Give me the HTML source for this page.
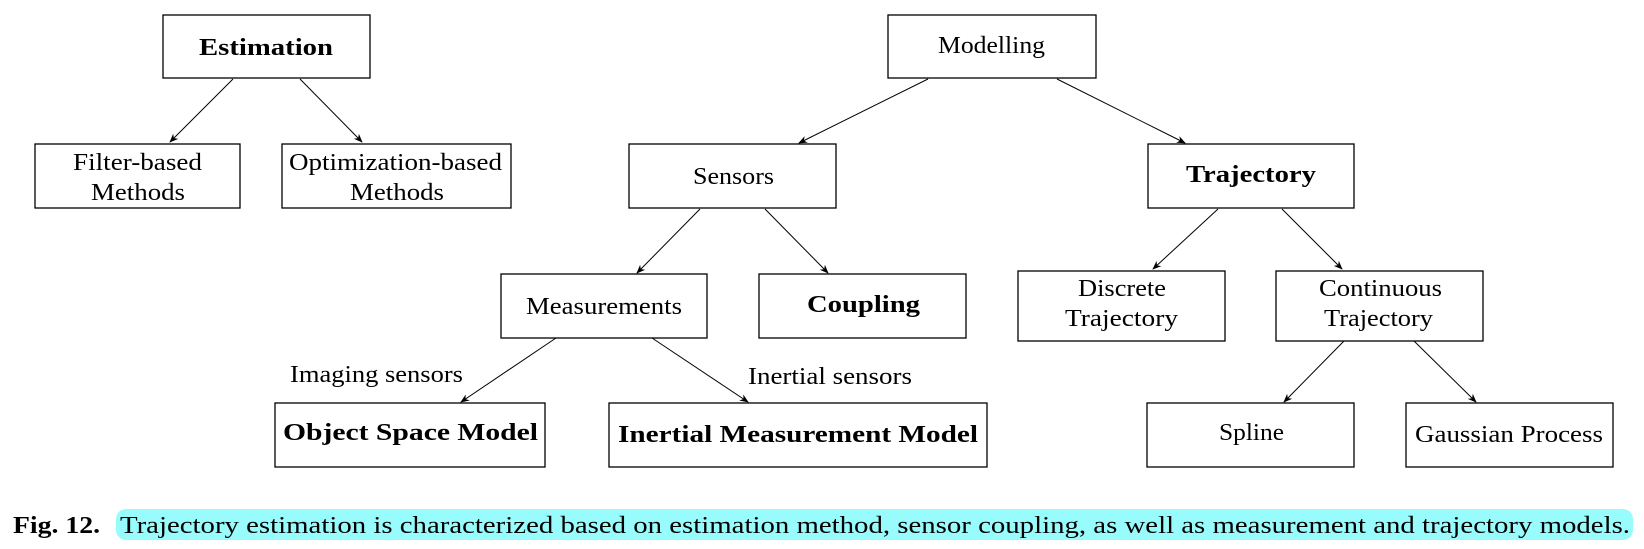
<!DOCTYPE html>
<html><head><meta charset="utf-8"><style>
html,body{margin:0;padding:0;background:#fff;}
svg{display:block;}
text{font-family:"Liberation Serif",serif;fill:#000;}
</style></head><body>
<svg width="1644" height="549" viewBox="0 0 1644 549" xmlns="http://www.w3.org/2000/svg">
<defs>
<marker id="a" viewBox="0 0 10 10" refX="9" refY="5" markerWidth="9" markerHeight="9" orient="auto" markerUnits="userSpaceOnUse">
<path d="M0,1 L10,5 L0,9 L3,5 Z" fill="#000"/>
</marker>
</defs>
<g fill="none" stroke="#000" stroke-width="1.3">
<rect x="163" y="15" width="207" height="63"/>
<rect x="35" y="144" width="205" height="64"/>
<rect x="282" y="144" width="229" height="64"/>
<rect x="888" y="15" width="208" height="63"/>
<rect x="629" y="144" width="207" height="64"/>
<rect x="1148" y="144" width="206" height="64"/>
<rect x="501" y="274" width="206" height="64"/>
<rect x="759" y="274" width="207" height="64"/>
<rect x="1018" y="271" width="207" height="70"/>
<rect x="1276" y="271" width="207" height="70"/>
<rect x="275" y="403" width="270" height="64"/>
<rect x="609" y="403" width="378" height="64"/>
<rect x="1147" y="403" width="207" height="64"/>
<rect x="1406" y="403" width="207" height="64"/>
</g>
<g stroke="#000" stroke-width="1" marker-end="url(#a)">
<line x1="233" y1="79" x2="170" y2="142"/>
<line x1="300" y1="79" x2="362" y2="142"/>
<line x1="928" y1="79" x2="799" y2="143"/>
<line x1="1057" y1="79" x2="1185" y2="143"/>
<line x1="700" y1="209" x2="637" y2="273"/>
<line x1="765" y1="209" x2="828" y2="273"/>
<line x1="556" y1="338" x2="461" y2="402"/>
<line x1="652" y1="338" x2="748" y2="402"/>
<line x1="1218" y1="209" x2="1153" y2="269"/>
<line x1="1282" y1="209" x2="1342" y2="269"/>
<line x1="1344" y1="341" x2="1284" y2="402"/>
<line x1="1414" y1="341" x2="1476" y2="402"/>
</g>
<g font-size="24">
<text x="199" y="55" font-weight="bold" textLength="134" lengthAdjust="spacingAndGlyphs">Estimation</text>
<text x="73" y="170" textLength="129" lengthAdjust="spacingAndGlyphs">Filter-based</text>
<text x="91" y="200" textLength="94" lengthAdjust="spacingAndGlyphs">Methods</text>
<text x="289" y="170" textLength="213" lengthAdjust="spacingAndGlyphs">Optimization-based</text>
<text x="350" y="200" textLength="94" lengthAdjust="spacingAndGlyphs">Methods</text>
<text x="938" y="53" textLength="107" lengthAdjust="spacingAndGlyphs">Modelling</text>
<text x="693" y="184" textLength="81" lengthAdjust="spacingAndGlyphs">Sensors</text>
<text x="1186" y="182" font-weight="bold" textLength="130" lengthAdjust="spacingAndGlyphs">Trajectory</text>
<text x="526" y="314" textLength="156" lengthAdjust="spacingAndGlyphs">Measurements</text>
<text x="807" y="312" font-weight="bold" textLength="113" lengthAdjust="spacingAndGlyphs">Coupling</text>
<text x="1078" y="296" textLength="88" lengthAdjust="spacingAndGlyphs">Discrete</text>
<text x="1065" y="326" textLength="113" lengthAdjust="spacingAndGlyphs">Trajectory</text>
<text x="1319" y="296" textLength="123" lengthAdjust="spacingAndGlyphs">Continuous</text>
<text x="1324" y="326" textLength="109" lengthAdjust="spacingAndGlyphs">Trajectory</text>
<text x="283" y="440" font-weight="bold" textLength="255" lengthAdjust="spacingAndGlyphs">Object Space Model</text>
<text x="618" y="442" font-weight="bold" textLength="360" lengthAdjust="spacingAndGlyphs">Inertial Measurement Model</text>
<text x="1219" y="440" textLength="65" lengthAdjust="spacingAndGlyphs">Spline</text>
<text x="1415" y="442" textLength="188" lengthAdjust="spacingAndGlyphs">Gaussian Process</text>
<text x="290" y="382" textLength="173" lengthAdjust="spacingAndGlyphs">Imaging sensors</text>
<text x="748" y="384" textLength="164" lengthAdjust="spacingAndGlyphs">Inertial sensors</text>
</g>
<rect x="116" y="509" width="1517" height="31" rx="10" fill="#98fcfc"/>
<text x="13" y="533" font-size="24" font-weight="bold" textLength="87" lengthAdjust="spacingAndGlyphs">Fig. 12.</text>
<text x="120" y="533" font-size="24" textLength="1510" lengthAdjust="spacingAndGlyphs">Trajectory estimation is characterized based on estimation method, sensor coupling, as well as measurement and trajectory models.</text>
</svg>
</body></html>
